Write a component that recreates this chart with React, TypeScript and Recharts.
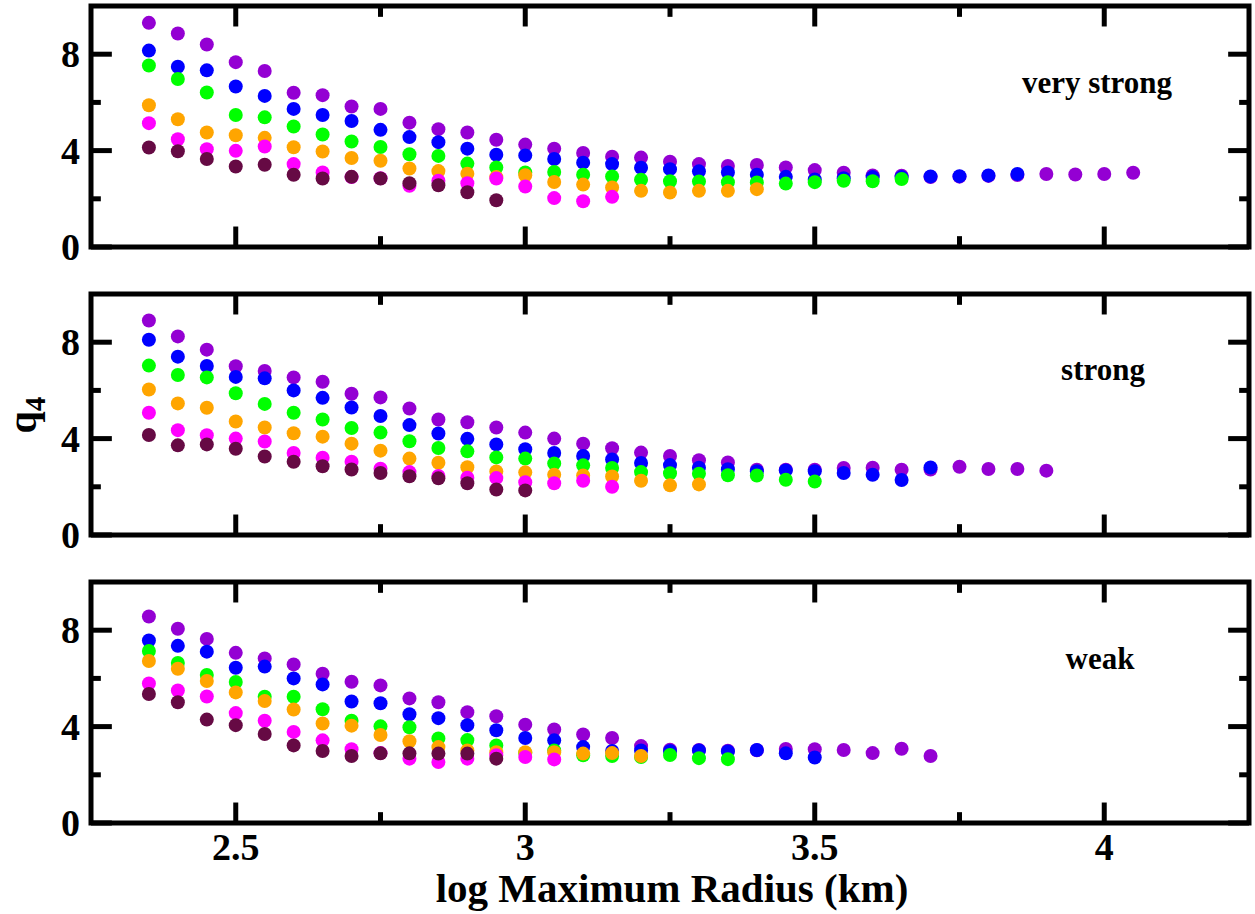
import React from 'react';
import {
  ScatterChart,
  Scatter,
  XAxis,
  YAxis,
  ReferenceLine,
  ReferenceArea } from
'recharts';

// log maximum radius (km), shared x positions
const radius = [
2.35, 2.4, 2.45, 2.5, 2.55, 2.6, 2.65, 2.7, 2.75, 2.8, 2.85, 2.9, 2.95, 3.0,
3.05, 3.1, 3.15, 3.2, 3.25, 3.3, 3.35, 3.4, 3.45, 3.5, 3.55, 3.6, 3.65, 3.7,
3.75, 3.8, 3.85, 3.9, 3.95, 4.0, 4.05];

const colors = ['#9400d3', '#0000ff', '#00ff00', '#ffa500', '#ff00ff', '#660a44'];

// very strong
const vsPurple = [9.3, 8.86, 8.4, 7.67, 7.3, 6.4, 6.3, 5.83, 5.73, 5.16, 4.89, 4.75, 4.45, 4.25, 4.08, 3.9, 3.75, 3.71, 3.54, 3.44, 3.36, 3.4, 3.3, 3.19, 3.08, 2.97, 2.96, 2.9, 2.92, 2.95, 2.99, 3.03, 3.01, 3.03, 3.08];
const vsBlue = [8.15, 7.48, 7.33, 6.66, 6.27, 5.73, 5.48, 5.23, 4.86, 4.56, 4.35, 4.08, 3.83, 3.8, 3.65, 3.5, 3.44, 3.29, 3.23, 3.14, 3.09, 3.0, 2.91, 2.8, 2.85, 2.9, 2.9, 2.93, 2.94, 2.97, 3.03];
const vsGreen = [7.53, 6.97, 6.41, 5.48, 5.38, 5.0, 4.67, 4.38, 4.15, 3.85, 3.78, 3.46, 3.3, 3.09, 3.11, 3.0, 2.93, 2.79, 2.73, 2.72, 2.69, 2.68, 2.63, 2.69, 2.75, 2.73, 2.82];
const vsOrange = [5.88, 5.3, 4.75, 4.64, 4.53, 4.14, 3.96, 3.69, 3.58, 3.26, 3.15, 3.04, 2.9, 2.98, 2.7, 2.59, 2.47, 2.33, 2.26, 2.33, 2.33, 2.4];
const vsMagenta = [5.14, 4.47, 4.06, 3.99, 4.17, 3.44, 3.09, 2.9, 2.85, 2.54, 2.75, 2.65, 2.84, 2.51, 2.03, 1.9, 2.08];
const vsMaroon = [4.13, 3.97, 3.65, 3.34, 3.41, 3.0, 2.84, 2.91, 2.84, 2.65, 2.56, 2.27, 1.94];

// strong
const sPurple = [8.9, 8.24, 7.69, 7.0, 6.81, 6.54, 6.36, 5.86, 5.71, 5.25, 4.79, 4.68, 4.46, 4.25, 4.0, 3.79, 3.6, 3.42, 3.28, 3.1, 3.01, 2.71, 2.71, 2.71, 2.78, 2.79, 2.71, 2.72, 2.83, 2.74, 2.74, 2.67];
const sBlue = [8.1, 7.4, 7.01, 6.56, 6.5, 6.0, 5.69, 5.29, 4.94, 4.56, 4.21, 3.99, 3.76, 3.56, 3.4, 3.28, 3.13, 2.99, 2.9, 2.79, 2.73, 2.65, 2.68, 2.65, 2.57, 2.5, 2.28, 2.8];
const sGreen = [7.03, 6.64, 6.54, 5.88, 5.44, 5.07, 4.79, 4.44, 4.25, 3.89, 3.61, 3.47, 3.22, 3.17, 2.97, 2.89, 2.78, 2.61, 2.56, 2.54, 2.48, 2.47, 2.29, 2.22];
const sOrange = [6.04, 5.46, 5.28, 4.71, 4.46, 4.22, 4.08, 3.79, 3.5, 3.17, 3.0, 2.81, 2.64, 2.6, 2.5, 2.47, 2.43, 2.25, 2.06, 2.1];
const sMagenta = [5.07, 4.35, 4.14, 4.0, 3.88, 3.4, 3.21, 3.04, 2.75, 2.61, 2.45, 2.38, 2.36, 2.19, 2.15, 2.25, 2.0];
const sMaroon = [4.15, 3.72, 3.76, 3.58, 3.26, 3.04, 2.85, 2.72, 2.57, 2.44, 2.35, 2.15, 1.89, 1.85];

// weak
const wPurple = [8.57, 8.06, 7.64, 7.06, 6.83, 6.58, 6.19, 5.86, 5.71, 5.17, 5.01, 4.6, 4.43, 4.08, 3.88, 3.67, 3.53, 3.19, 3.04, 3.03, 3.0, 3.02, 3.07, 3.06, 3.03, 2.9, 3.08, 2.78];
const wBlue = [7.57, 7.35, 7.11, 6.44, 6.49, 6.0, 5.75, 5.04, 4.97, 4.51, 4.35, 4.06, 3.85, 3.53, 3.43, 3.15, 2.99, 3.01, 2.99, 3.01, 2.97, 3.03, 2.89, 2.72];
const wGreen = [7.14, 6.64, 6.14, 5.85, 5.24, 5.24, 4.72, 4.24, 4.01, 3.97, 3.51, 3.44, 3.22, 2.9, 3.01, 2.81, 2.78, 2.74, 2.82, 2.69, 2.65];
const wOrange = [6.72, 6.4, 5.89, 5.42, 5.06, 4.71, 4.13, 4.04, 3.65, 3.39, 3.15, 3.01, 2.94, 2.94, 2.94, 2.88, 2.9, 2.78];
const wMagenta = [5.79, 5.5, 5.25, 4.56, 4.24, 3.78, 3.43, 3.06, 2.9, 2.67, 2.53, 2.67, 2.81, 2.74, 2.64];
const wMaroon = [5.35, 5.01, 4.29, 4.06, 3.69, 3.22, 2.99, 2.78, 2.89, 2.89, 2.88, 2.88, 2.67];

const xTicks = [2.5, 3, 3.5, 4];
const xMinor = [2.75, 3.25, 3.75];
const yTicks = [0, 4, 8];
const yMinor = [2, 6];

const font = "'Liberation Serif', 'Times New Roman', serif";

const toPoints = (vals: number[]) => vals.map((v, i) => ({ x: radius[i], y: v }));

const Dot = (color: string) => (p: any) =>
<circle cx={p.cx} cy={p.cy} r={7} fill={color} />;

const YTick = (p: any) =>
<text x={p.x} y={p.y} dy={13} textAnchor="end" fontFamily={font} fontWeight="bold" fontSize={38} fill="#000">
    {p.payload.value}
  </text>;

const XTick = (p: any) =>
<text x={p.x} y={p.y + 37} textAnchor="middle" fontFamily={font} fontWeight="bold" fontSize={38} fill="#000">
    {p.payload.value}
  </text>;

function Panel({ series, top, height, showX }: {series: number[][];top: number;height: number;showX: boolean;}) {
  const seg = (a: [number, number], b: [number, number], k: string) =>
  <ReferenceLine
    key={k}
    segment={[{ x: a[0], y: a[1] }, { x: b[0], y: b[1] }]}
    stroke="#000"
    strokeWidth={5}
    ifOverflow="visible" />;

  return (
    <div style={{ position: 'absolute', left: 0, top }}>
      <ScatterChart width={1255} height={height} margin={{ top: 6, right: 6, bottom: showX ? 0 : 41, left: 11 }}>
        <XAxis
          type="number"
          dataKey="x"
          domain={[2.25, 4.25]}
          ticks={xTicks}
          hide={!showX}
          height={91}
          tickSize={0}
          tickMargin={0}
          axisLine={false}
          tickLine={false}
          tick={XTick}
          allowDataOverflow />
        <YAxis
          type="number"
          dataKey="y"
          domain={[0, 10]}
          ticks={yTicks}
          width={80}
          tickSize={0}
          tickMargin={11}
          axisLine={false}
          tickLine={false}
          tick={YTick}
          allowDataOverflow />
        {series.map((vals, i) =>
        <Scatter key={i} data={toPoints(vals)} shape={Dot(colors[i])} isAnimationActive={false} />
        )}
        {xTicks.map((t) => seg([t, 0], [t, 0.85], 'xb' + t))}
        {xTicks.map((t) => seg([t, 10], [t, 9.15], 'xt' + t))}
        {xMinor.map((t) => seg([t, 0], [t, 0.45], 'mb' + t))}
        {xMinor.map((t) => seg([t, 10], [t, 9.55], 'mt' + t))}
        {yTicks.map((t) => seg([2.25, t], [2.286, t], 'yl' + t))}
        {yTicks.map((t) => seg([4.25, t], [4.214, t], 'yr' + t))}
        {yMinor.map((t) => seg([2.25, t], [2.267, t], 'nl' + t))}
        {yMinor.map((t) => seg([4.25, t], [4.233, t], 'nr' + t))}
        <ReferenceArea x1={2.25} x2={4.25} y1={0} y2={10} fill="none" stroke="#000" strokeWidth={5} ifOverflow="visible" />
      </ScatterChart>
    </div>);

}

export default function App() {
  return (
    <div style={{ position: 'absolute', left: 0, top: 0, width: 1255, height: 914, background: '#fff' }}>
      <Panel series={[vsPurple, vsBlue, vsGreen, vsOrange, vsMagenta, vsMaroon]} top={0} height={288} showX={false} />
      <Panel series={[sPurple, sBlue, sGreen, sOrange, sMagenta, sMaroon]} top={288} height={288} showX={false} />
      <Panel series={[wPurple, wBlue, wGreen, wOrange, wMagenta, wMaroon]} top={576} height={338} showX={true} />
      <svg width={1255} height={914} style={{ position: 'absolute', left: 0, top: 0, pointerEvents: 'none' }}>
        <g fontFamily={font} fontWeight="bold" fill="#000">
          <text x={1097} y={93} fontSize={31} textAnchor="middle">very strong</text>
          <text x={1103} y={380} fontSize={31} textAnchor="middle">strong</text>
          <text x={1100} y={669} fontSize={31} textAnchor="middle">weak</text>
          <text x={672} y={902} fontSize={41} textAnchor="middle">log Maximum Radius (km)</text>
          <text transform="translate(36,415) rotate(-90)" fontSize={40} textAnchor="middle">
            q<tspan fontSize={29} dy={9}>4</tspan>
          </text>
        </g>
      </svg>
    </div>);

}
